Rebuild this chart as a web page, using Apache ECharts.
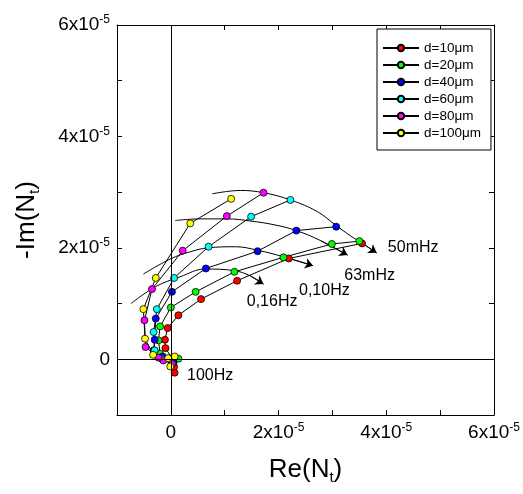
<!DOCTYPE html>
<html><head><meta charset="utf-8">
<script src="https://cdn.jsdelivr.net/npm/echarts@6/dist/echarts.min.js"></script>
<style>html,body{margin:0;padding:0;background:#fff}#c{width:523px;height:494px}</style>
</head><body><div id="c"></div>
<script>
// all values are in units of 1e-5
const seriesNames = ['d=10\u03bcm','d=20\u03bcm','d=40\u03bcm','d=60\u03bcm','d=80\u03bcm','d=100\u03bcm'];
const seriesColors = ['#ff0000','#00ff00','#0000ff','#00ffff','#ff00ff','#ffff00'];
// [Re, -Im], from 100Hz (near origin) down to 50mHz
const d10 = [[0.07,-0.24],[0.06,-0.13],[0.02,0.02],[-0.1,0.2],[-0.11,0.35],[-0.06,0.56],[0.14,0.79],[0.56,1.08],[1.23,1.41],[2.19,1.81],[3.55,2.08]];
const d20 = [[0.14,0.01],[0.02,-0.03],[-0.2,0.10],[-0.23,0.34],[-0.20,0.59],[0.0,0.93],[0.46,1.21],[1.18,1.57],[2.09,1.83],[2.99,2.07],[3.50,2.12]];
const d40 = [[0.05,-0.05],[-0.15,0.05],[-0.32,0.16],[-0.30,0.35],[-0.28,0.73],[0.02,1.21],[0.65,1.63],[1.61,1.94],[2.33,2.31],[3.07,2.38]];
const d60 = [[0.03,-0.07],[-0.17,0.01],[-0.30,0.16],[-0.32,0.49],[-0.26,0.90],[0.06,1.46],[0.70,2.02],[1.49,2.56],[2.22,2.86]];
const d80 = [[0.02,-0.08],[-0.14,-0.02],[-0.23,0.03],[-0.47,0.22],[-0.49,0.70],[-0.35,1.26],[0.22,1.95],[1.04,2.57],[1.72,2.99]];
const d100 = [[-0.01,-0.13],[0.07,0.05],[-0.05,0.02],[-0.33,0.08],[-0.48,0.37],[-0.51,0.90],[-0.28,1.46],[0.36,2.44],[1.12,2.88]];
const seriesData = [d10,d20,d40,d60,d80,d100];
// iso-frequency curves
const arc016 = [[-0.74,1.00],[-0.29,1.30],[0.17,1.48],[0.64,1.62],[1.18,1.59],[1.47,1.50],[1.72,1.35]];
const arc010 = [[-0.51,1.53],[-0.01,1.80],[0.36,1.93],[0.69,2.00],[1.20,2.02],[1.60,1.96],[2.09,1.84],[2.64,1.68]];
const arc063 = [[0.08,2.49],[0.54,2.52],[1.05,2.52],[1.49,2.48],[1.94,2.41],[2.33,2.31],[2.78,2.13],[3.28,1.87]];
const arc050 = [[0.77,2.97],[1.29,3.03],[1.72,2.99],[2.22,2.86],[2.72,2.65],[3.07,2.40],[3.33,2.22],[3.54,2.09],[3.82,1.91]];
const arcs = [arc016, arc010, arc063, arc050];
const freqLabels = ['0,16Hz','0,10Hz','63mHz','50mHz','100Hz'];
const freqLabelAt = [[1.88,1.03],[2.85,1.24],[3.69,1.50],[4.50,2.00],[0.73,-0.30]];
const axisMin = -1, axisMax = 6, axisStep = 1;
const labeledTicks = [0,2,4,6];

const FONT = 'Liberation Sans, Arial, sans-serif';
function tickFmt(v){
  v = Math.round(v*1000)/1000;
  if (labeledTicks.indexOf(v) < 0) return '';
  if (v === 0) return '{b|0}';
  return '{b|' + v + 'x10}{s|-5}';
}
const tickRich = {
  b:{fontSize:19,fontFamily:FONT,color:'#000',lineHeight:22},
  s:{fontSize:12,fontFamily:FONT,color:'#000',verticalAlign:'top',lineHeight:12}
};
function axisBase(pos, show){
  return {
    type:'value', position:pos, min:axisMin, max:axisMax, interval:axisStep,
    axisLine:{show:true,onZero:false,lineStyle:{color:'#000',width:1}},
    axisTick:{show:true,inside:true,length:5,lineStyle:{color:'#000',width:1}},
    splitLine:{show:false},
    axisLabel: show ? {show:true,formatter:tickFmt,rich:tickRich,margin:7} : {show:false}
  };
}
const xB = axisBase('bottom', true);
xB.name = '{a|Re(N}{t|t}{a|)}';
xB.nameLocation = 'middle'; xB.nameGap = 40;
xB.nameTextStyle = {rich:{a:{fontSize:26,fontFamily:FONT,color:'#000',lineHeight:30},t:{fontSize:15,fontFamily:FONT,color:'#000',verticalAlign:'bottom',lineHeight:15}}};
const yL = axisBase('left', true);
yL.name = '{a|-Im(N}{t|t}{a|)}';
yL.nameLocation = 'middle'; yL.nameGap = 75; yL.nameRotate = 90;
yL.nameTextStyle = {rich:{a:{fontSize:26,fontFamily:FONT,color:'#000',lineHeight:30},t:{fontSize:15,fontFamily:FONT,color:'#000',verticalAlign:'bottom',lineHeight:15}}};
const xT = axisBase('top', false);
const yR = axisBase('right', false);

const series = [];
seriesData.forEach((d,i)=>{
  const s = {
    name: seriesNames[i], type:'line', data:d, xAxisIndex:0, yAxisIndex:0,
    symbol:'circle', symbolSize:7,
    lineStyle:{color:'#000',width:1},
    itemStyle:{color:seriesColors[i],borderColor:'#000',borderWidth:0.8},
    z: 3
  };
  if (i === 0) {
    s.markLine = {silent:true, symbol:'none', label:{show:false}, animation:false,
      lineStyle:{color:'#000',type:'solid',width:1},
      data:[{xAxis:0},{yAxis:0}]};
  }
  series.push(s);
});
arcs.forEach(a=>{
  series.push({type:'line', data:a, smooth:0.4, symbol:'none', silent:true,
    lineStyle:{color:'#000',width:1}, z:2});
});
series.push({type:'lines', coordinateSystem:'cartesian2d', silent:true,
  symbol:['none','arrow'], symbolSize:8,
  lineStyle:{color:'#000',width:1,opacity:1},
  data: arcs.map(a=>({coords:[a[a.length-2], a[a.length-1]]})), z:2});
series.push({type:'scatter', symbolSize:0, silent:true,
  itemStyle:{opacity:1},
  data: freqLabels.map((t,i)=>({name:t, value:freqLabelAt[i]})),
  label:{show:true, position:'inside', formatter:'{b}', fontSize:16, fontFamily:FONT, color:'#000', opacity:1}});

const chart = echarts.init(document.getElementById('c'), null, {renderer:'canvas'});
chart.setOption({
  animation:false,
  backgroundColor:'#fff',
  grid:{left:117, right:29, top:25, bottom:79},
  xAxis:[xB, xT],
  yAxis:[yL, yR],
  legend:{
    data: seriesNames, orient:'vertical', left:377, top:29,
    padding:[12,10,10,5], itemGap:3, itemWidth:36, itemHeight:8,
    borderColor:'#000', borderWidth:1, backgroundColor:'#fff',
    textStyle:{fontSize:13.5, fontFamily:FONT, color:'#000'},
    selectedMode:false
  },
  series: series
});
</script></body></html>
